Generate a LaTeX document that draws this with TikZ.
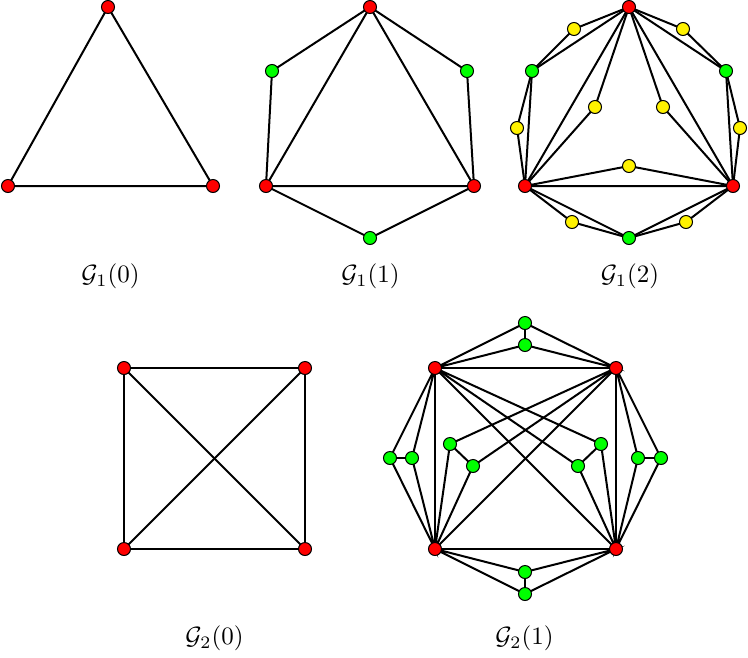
\documentclass[tikz,border=0pt]{standalone}
\usetikzlibrary{backgrounds}
\begin{document}
\begin{tikzpicture}[x=1pt,y=-1pt,
  vtx/.style={circle,draw=black,line width=1pt,minimum size=13pt,inner sep=0pt},
  rv/.style={vtx,fill=red},
  gv/.style={vtx,fill=green},
  yv/.style={vtx,fill=yellow},
  edge/.style={line width=2pt},
  lab/.style={scale=2.5,inner sep=0pt}]
\useasboundingbox (0,0) rectangle (748,657);
% ---------- G1(0)
\node[rv] (a1) at (108,7) {};
\node[rv] (a2) at (8,186) {};
\node[rv] (a3) at (213,186) {};
\node[lab] (la) at (110.5,276) {$\mathcal{G}_1(0)$};
% ---------- G1(1)
\node[rv] (b1) at (370,7) {};
\node[rv] (b2) at (266,186) {};
\node[rv] (b3) at (474,186) {};
\node[gv] (b4) at (272,71) {};
\node[gv] (b5) at (467,71) {};
\node[gv] (b6) at (370,238) {};
\node[lab] (lb) at (370.5,276) {$\mathcal{G}_1(1)$};
% ---------- G1(2)
\node[rv] (c1) at (629,7) {};
\node[rv] (c2) at (525,186) {};
\node[rv] (c3) at (733,186) {};
\node[gv] (c4) at (532,71) {};
\node[gv] (c5) at (726,71) {};
\node[gv] (c6) at (629,238) {};
\node[yv] (y1) at (574,29) {};
\node[yv] (y2) at (683,29) {};
\node[yv] (y3) at (517,128) {};
\node[yv] (y4) at (740,128) {};
\node[yv] (y5) at (595,107) {};
\node[yv] (y6) at (663,107) {};
\node[yv] (y7) at (629,166) {};
\node[yv] (y8) at (572,222) {};
\node[yv] (y9) at (686,222) {};
\node[lab] (lc) at (630,276) {$\mathcal{G}_1(2)$};
% ---------- G2(0)
\node[rv] (d1) at (124,368) {};
\node[rv] (d2) at (305,368) {};
\node[rv] (d3) at (124,549) {};
\node[rv] (d4) at (305,549) {};
\node[lab] (ld) at (214.5,638) {$\mathcal{G}_2(0)$};
% ---------- G2(1)
\node[rv] (e1) at (435,368) {};
\node[rv] (e2) at (616,368) {};
\node[rv] (e3) at (435,549) {};
\node[rv] (e4) at (616,549) {};
\node[gv] (t1) at (525,323) {};
\node[gv] (t2) at (525,345) {};
\node[gv] (u1) at (525,572) {};
\node[gv] (u2) at (525,594) {};
\node[gv] (l1) at (390,458) {};
\node[gv] (l2) at (412,458) {};
\node[gv] (r1) at (638,458) {};
\node[gv] (r2) at (661,458) {};
\node[gv] (p1) at (450,444) {};
\node[gv] (p2) at (473,466) {};
\node[gv] (q1) at (601,444) {};
\node[gv] (q2) at (578,466) {};
\node[lab] (le) at (524.5,638) {$\mathcal{G}_2(1)$};
% edges drawn behind
\begin{scope}[on background layer]
\draw[edge] (a1.center) -- (a2.center) -- (a3.center) -- cycle;
% G1(1)
\draw[edge] (b1.center) -- (b2.center) -- (b3.center) -- cycle;
\draw[edge] (b1.center) -- (b4.center) -- (b2.center) -- (b6.center) -- (b3.center) -- (b5.center) -- (b1.center);
% G1(2)
\draw[edge] (c1.center) -- (c2.center) -- (c3.center) -- cycle;
\draw[edge] (c1.center) -- (c4.center) -- (c2.center) -- (c6.center) -- (c3.center) -- (c5.center) -- (c1.center);
\draw[edge] (c1.center) -- (y1.center) -- (c4.center) -- (y3.center) -- (c2.center) -- (y8.center) -- (c6.center) -- (y9.center) -- (c3.center) -- (y4.center) -- (c5.center) -- (y2.center) -- (c1.center);
\draw[edge] (c1.center) -- (y5.center) -- (c2.center) -- (y7.center) -- (c3.center) -- (y6.center) -- (c1.center);
% G2(0)
\draw[edge] (d1.center) -- (d2.center) -- (d4.center) -- (d3.center) -- cycle;
\draw[edge] (d1.center) -- (d4.center);
\draw[edge] (d2.center) -- (d3.center);
% G2(1)
\draw[edge] (e1.center) -- (e2.center) -- (e4.center) -- (e3.center) -- cycle;
\draw[edge] (e1.center) -- (e4.center);
\draw[edge] (e2.center) -- (e3.center);
\draw[edge] (e1.center) -- (t1.center) -- (e2.center) -- (t2.center) -- (e1.center);
\draw[edge] (t1.center) -- (t2.center);
\draw[edge] (e3.center) -- (u1.center) -- (e4.center) -- (u2.center) -- (e3.center);
\draw[edge] (u1.center) -- (u2.center);
\draw[edge] (e1.center) -- (l1.center) -- (e3.center) -- (l2.center) -- (e1.center);
\draw[edge] (l1.center) -- (l2.center);
\draw[edge] (e2.center) -- (r1.center) -- (e4.center) -- (r2.center) -- (e2.center);
\draw[edge] (r1.center) -- (r2.center);
\draw[edge] (e2.center) -- (p1.center) -- (e3.center) -- (p2.center) -- (e2.center);
\draw[edge] (p1.center) -- (p2.center);
\draw[edge] (e1.center) -- (q1.center) -- (e4.center) -- (q2.center) -- (e1.center);
\draw[edge] (q1.center) -- (q2.center);
\end{scope}
\end{tikzpicture}
\end{document}
